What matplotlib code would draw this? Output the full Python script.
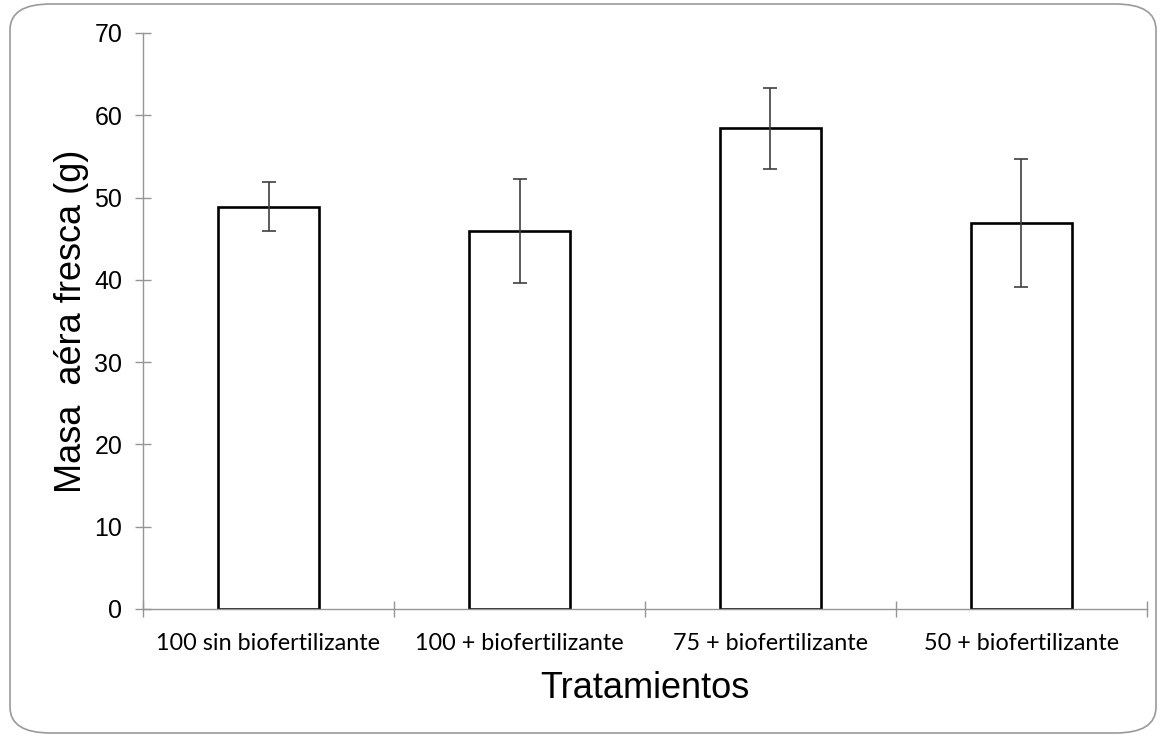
import matplotlib.pyplot as plt
from matplotlib.patches import FancyBboxPatch

# Datos del gráfico
tratamientos = ['100 sin biofertilizante', '100 + biofertilizante',
                '75 + biofertilizante', '50 + biofertilizante']
masa = [48.9, 45.9, 58.4, 46.9]
error = [3.0, 6.3, 4.9, 7.8]

fig = plt.figure(figsize=(11.6, 7.37), dpi=100)

# Marco redondeado alrededor de la figura
marco = FancyBboxPatch((10 / 1160, 4 / 737), 1146 / 1160, 729 / 737,
                       boxstyle='round,pad=0,rounding_size=0.035',
                       transform=fig.transFigure, facecolor='none',
                       edgecolor='#9a9a9a', linewidth=1.2, zorder=-1)
fig.patches.append(marco)

ax = fig.add_axes([143 / 1160, 1 - 609 / 737, 1004 / 1160, 576 / 737])
ax.set_facecolor('none')

x = range(len(tratamientos))
ax.bar(x, masa, width=0.4, color='white', edgecolor='black', linewidth=1.9, zorder=2)
ax.errorbar(x, masa, yerr=error, fmt='none', ecolor='#404040', elinewidth=1.2,
            capsize=5, capthick=1.2, zorder=3)

ax.set_xlim(-0.5, 3.5)
ax.set_ylim(0, 70)
ax.set_yticks(range(0, 71, 10))
ax.set_xticks([-0.5, 0.5, 1.5, 2.5, 3.5])
ax.set_xticklabels([])
ax.set_xticks(list(x), minor=True)
ax.set_xticklabels(tratamientos, minor=True, fontsize=16.8, family='Lato')
ax.tick_params(axis='x', which='minor', length=0, pad=17.5)

for s in ['top', 'right']:
    ax.spines[s].set_visible(False)
for s in ['left', 'bottom']:
    ax.spines[s].set_color('#959595')
    ax.spines[s].set_linewidth(1.0)

ax.tick_params(axis='both', which='major', direction='inout', length=12,
               color='#959595', width=1.0)
ax.tick_params(axis='y', labelsize=18, pad=9)
for lab in ax.get_yticklabels():
    lab.set_family('Liberation Sans')

ax.set_ylabel('Masa  aéra fresca (g)', fontsize=26, family='Liberation Sans', labelpad=4)
ax.set_xlabel('Tratamientos', fontsize=26, family='Liberation Sans', labelpad=12)

fig.savefig('out.png', dpi=100)
